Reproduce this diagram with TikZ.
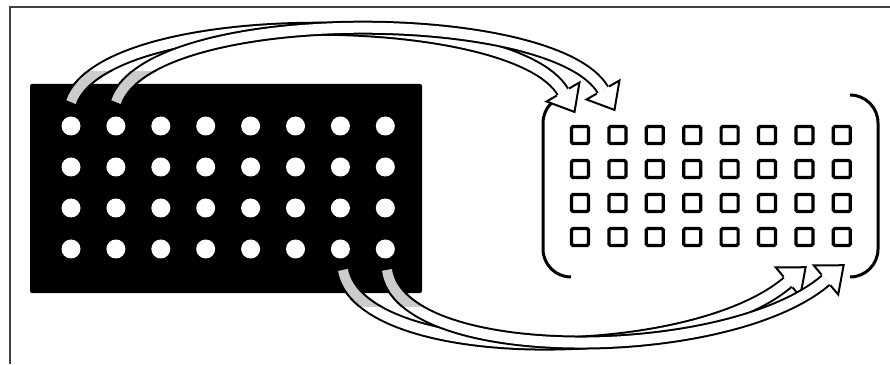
\documentclass[tikz,border=0pt]{standalone}
\usetikzlibrary{calc}

\begin{document}
\begin{tikzpicture}[x=1pt, y=1pt,
    board/.style={fill=black, rounded corners=2pt, minimum width=392pt, minimum height=209pt, inner sep=0pt},
    dot/.style={circle, fill=white, minimum size=19pt, inner sep=0pt},
    cell/.style={draw, line width=3.2pt, rounded corners=1.5pt, minimum size=17pt, inner sep=0pt},
    brace/.style={line width=3pt, rounded corners=28pt},
    band/.style={draw, line width=2pt, double=white, double distance=10pt},
    pics/head/.style={code={\filldraw[fill=white, line width=2pt, line join=miter] (0,7) -- (0,19) -- (23,0) -- (0,-19) -- (0,-7);}},
  ]
    \useasboundingbox (0,0) rectangle (890,364);
    \draw[line width=2pt, black!75] (10,0) -- (10,357) -- (890,357);

    % source plate
    \node[board] (plate) at (226,175.5) {};
    \foreach \r in {1,...,4}
      \foreach \c in {1,...,8}
        \node[dot] (d-\r-\c) at ({71+44.9*(\c-1)}, {238-41*(\r-1)}) {};

    % target array
    \foreach \r in {1,...,4}
      \foreach \c in {1,...,8}
        \node[cell] (s-\r-\c) at ({580+37.4*(\c-1)}, {229-34*(\r-1)}) {};
    \draw[brace] (571,269) -- (543,269) -- (543,87) -- (571,87);
    \draw[brace] (850,269) -- (878,269) -- (878,87) -- (850,87);

    % transfer arrows
    \coordinate (up1s) at (71,262);
    \coordinate (up1e) at (563,272);
    \coordinate (up2s) at (116,262);
    \coordinate (up2e) at (603,274);
    \coordinate (dn1s) at (343,94);
    \coordinate (dn1e) at (788,82);
    \coordinate (dn2s) at (387,94);
    \coordinate (dn2e) at (826,84);

    \draw[band] (up1s) .. controls (106,360) and (514,356) .. (up1e);
    \pic[rotate=-60] at (up1e) {head};
    \draw[band] (up2s) .. controls (150,360) and (554,358) .. (up2e);
    \pic[rotate=-60] at (up2e) {head};
    \draw[band] (dn1s) .. controls (360,-2) and (690,-2) .. (dn1e);
    \pic[rotate=40] at (dn1e) {head};
    \draw[band] (dn2s) .. controls (400,-2) and (728,0) .. (dn2e);
    \pic[rotate=40] at (dn2e) {head};

    \begin{scope}
      \clip (0,200) rectangle (200,292);
      \draw[band, double=black!20] (up1s) .. controls (106,360) and (514,356) .. (up1e);
      \draw[band, double=black!20] (up2s) .. controls (150,360) and (554,358) .. (up2e);
    \end{scope}
    \begin{scope}
      \clip (300,58) rectangle (425,100);
      \draw[band, double=black!20] (dn1s) .. controls (360,-2) and (690,-2) .. (dn1e);
      \draw[band, double=black!20] (dn2s) .. controls (400,-2) and (728,0) .. (dn2e);
    \end{scope}
  \end{tikzpicture}
\end{document}
